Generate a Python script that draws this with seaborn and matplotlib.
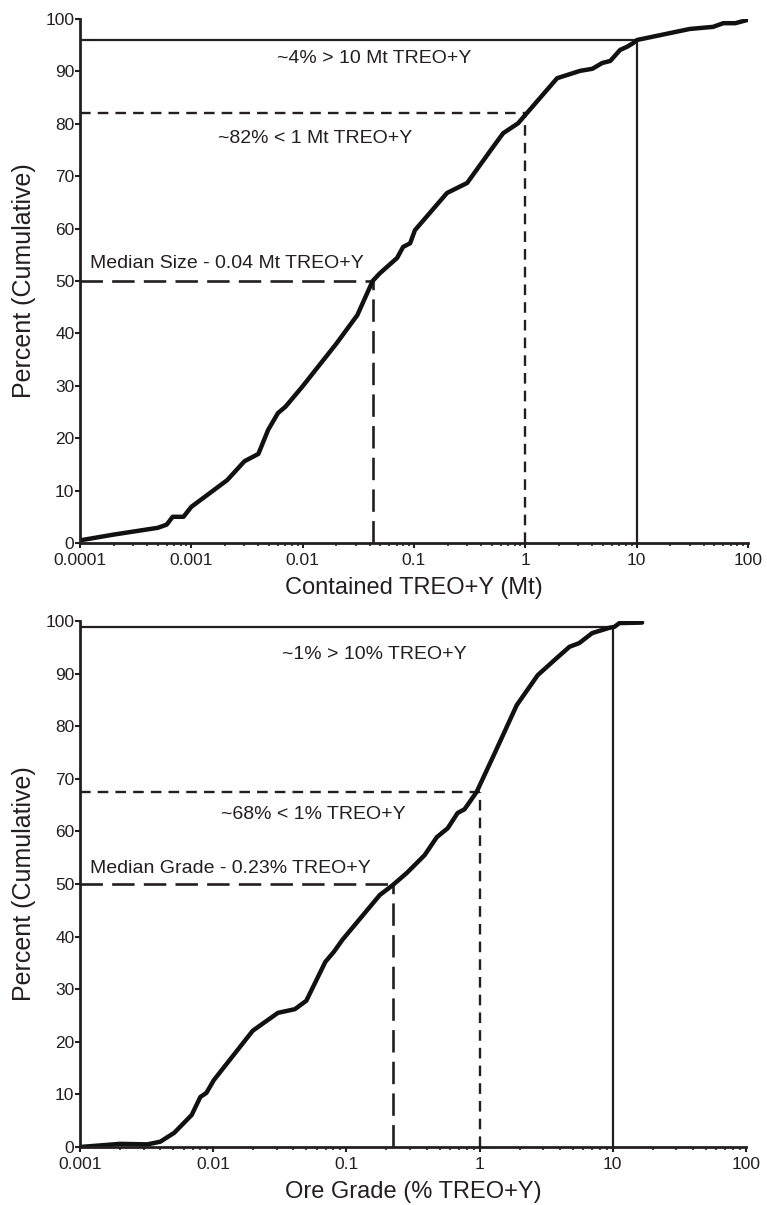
import matplotlib
matplotlib.use("Agg")
import matplotlib.pyplot as plt
import matplotlib.ticker as mticker
import seaborn as sns
import pandas as pd
import numpy as np

# ---- Data ----
size_mt = [0.0001, 0.0002, 0.0005, 0.0006, 0.00068, 0.00085, 0.001, 0.0021, 0.003, 0.004,
           0.0049, 0.006, 0.007, 0.0099, 0.02, 0.031, 0.0425, 0.0495, 0.0705, 0.0798,
           0.0923, 0.102, 0.198, 0.30, 0.514, 0.632, 0.861, 1.0, 1.93, 3.1, 4.0, 4.9,
           5.8, 7.1, 8.2, 9.3, 10.1, 30, 48.6, 60, 77, 98]
size_pct = [0.5, 1.6, 2.9, 3.5, 5.0, 5.0, 6.9, 12.0, 15.6, 17.0,
            21.6, 24.8, 26.0, 29.8, 38.0, 43.5, 50.0, 51.5, 54.4, 56.5,
            57.2, 59.7, 66.8, 68.7, 75.6, 78.2, 80.1, 81.7, 88.7, 90.1, 90.5, 91.6,
            92.0, 94.1, 94.7, 95.4, 96.0, 98.1, 98.5, 99.2, 99.2, 99.8]

grade_pct = [0.001, 0.002, 0.0032, 0.004, 0.0051, 0.0069, 0.008, 0.0089, 0.0101, 0.0198,
             0.0306, 0.041, 0.050, 0.0695, 0.0805, 0.0934, 0.178, 0.223, 0.284, 0.387,
             0.477, 0.576, 0.684, 0.77, 0.95, 1.30, 1.90, 2.73, 3.66, 4.73,
             5.6, 7.0, 9.4, 10.3, 11.2, 16.6]
grade_cum = [0.0, 0.6, 0.5, 1.0, 2.7, 6.1, 9.5, 10.3, 12.7, 22.1,
             25.5, 26.2, 27.8, 35.2, 37.1, 39.4, 47.9, 49.8, 52.1, 55.5,
             58.9, 60.6, 63.5, 64.2, 67.5, 74.9, 84.0, 89.7, 92.6, 95.1,
             95.8, 97.7, 98.7, 98.9, 99.6, 99.7]

top_ticks = [0.0001, 0.001, 0.01, 0.1, 1, 10, 100]
top_ticklabels = ["0.0001", "0.001", "0.01", "0.1", "1", "10", "100"]
bot_ticks = [0.001, 0.01, 0.1, 1, 10, 100]
bot_ticklabels = ["0.001", "0.01", "0.1", "1", "10", "100"]
y_ticks = list(range(0, 101, 10))

# reference levels
top_ref = {"hi": (10, 96), "mid": (1, 82), "med": (0.0425, 50)}
bot_ref = {"hi": (10, 98.8), "mid": (1, 67.5), "med": (0.225, 50)}
top_texts = ["~4% > 10 Mt TREO+Y", "~82% < 1 Mt TREO+Y", "Median Size - 0.04 Mt TREO+Y"]
bot_texts = ["~1% > 10% TREO+Y", "~68% < 1% TREO+Y", "Median Grade - 0.23% TREO+Y"]

sns.set_theme(style="white")
plt.rcParams['font.family'] = ['Liberation Sans', 'DejaVu Sans']
TXT = '#231f20'

fig = plt.figure(figsize=(7.67, 12.05), dpi=100)
ax1 = fig.add_axes([80/767, 1-543/1205, (748-80)/767, (543-19)/1205])
ax2 = fig.add_axes([80/767, 1-1147/1205, (746-80)/767, (1147-621)/1205])

def style_axes(ax, xmin, ticks, labels, xlabel):
    ax.set_xscale('log')
    ax.set_xlim(xmin, 100)
    ax.set_ylim(0, 100)
    ax.xaxis.set_major_locator(mticker.FixedLocator(ticks))
    ax.xaxis.set_major_formatter(mticker.FixedFormatter(labels))
    ax.xaxis.set_minor_locator(mticker.LogLocator(base=10, subs=np.arange(2, 10)))
    ax.xaxis.set_minor_formatter(mticker.NullFormatter())
    ax.set_yticks(y_ticks)
    ax.set_yticklabels([str(v) for v in y_ticks])
    for s in ['top', 'right']:
        ax.spines[s].set_visible(False)
    for s in ['left', 'bottom']:
        ax.spines[s].set_linewidth(2.0)
        ax.spines[s].set_color(TXT)
    ax.tick_params(axis='both', which='major', direction='out', length=3.5, width=1.5,
                   color=TXT, labelcolor=TXT, labelsize=12.5, bottom=True, left=True)
    ax.tick_params(axis='x', which='major', pad=4)
    ax.tick_params(axis='y', which='major', pad=0.5)
    ax.tick_params(axis='x', which='minor', direction='out', length=2.5, width=1.2,
                   color=TXT, bottom=True)
    ax.set_xlabel(xlabel, fontsize=17, color=TXT, labelpad=6)
    ax.set_ylabel("Percent (Cumulative)", fontsize=18, color=TXT, labelpad=7)
    ax.grid(False)

def ref_lines(ax, xmin, ref):
    hx, hy = ref["hi"]
    ax.plot([xmin, hx], [hy, hy], color=TXT, lw=1.6, solid_capstyle='butt')
    ax.plot([hx, hx], [0, hy], color=TXT, lw=1.6, solid_capstyle='butt')
    mx, my = ref["mid"]
    ax.plot([xmin, mx], [my, my], color=TXT, lw=1.7, linestyle=(0, (4.5, 3)))
    ax.plot([mx, mx], [0, my], color=TXT, lw=1.7, linestyle=(0, (4.5, 3)))
    dx, dy = ref["med"]
    ax.plot([xmin, dx], [dy, dy], color=TXT, lw=1.9, linestyle=(0, (8.5, 3.5)))
    ax.plot([dx, dx], [0, dy], color=TXT, lw=1.9, linestyle=(0, (8.5, 3.5)))

FS = 14

# Top panel
df1 = pd.DataFrame({"x": size_mt, "y": size_pct})
ref_lines(ax1, 0.0001, top_ref)
sns.lineplot(data=df1, x="x", y="y", ax=ax1, color='#111111', linewidth=3.2,
             sort=False, estimator=None)
style_axes(ax1, 0.0001, top_ticks, top_ticklabels, "Contained TREO+Y (Mt)")
ax1.text(10**-1.354, 91.6, top_texts[0], fontsize=FS, color=TXT, ha='center', va='baseline')
ax1.text(10**-1.889, 76.3, top_texts[1], fontsize=FS, color=TXT, ha='center', va='baseline')
ax1.text(10**-3.91, 52.5, top_texts[2], fontsize=FS, color=TXT, ha='left', va='baseline')

# Bottom panel
df2 = pd.DataFrame({"x": grade_pct, "y": grade_cum})
ref_lines(ax2, 0.001, bot_ref)
sns.lineplot(data=df2, x="x", y="y", ax=ax2, color='#111111', linewidth=3.2,
             sort=False, estimator=None)
style_axes(ax2, 0.001, bot_ticks, bot_ticklabels, "Ore Grade (% TREO+Y)")
ax2.text(10**-0.794, 92.8, bot_texts[0], fontsize=FS, color=TXT, ha='center', va='baseline')
ax2.text(10**-1.245, 62.4, bot_texts[1], fontsize=FS, color=TXT, ha='center', va='baseline')
ax2.text(10**-2.925, 52.1, bot_texts[2], fontsize=FS, color=TXT, ha='left', va='baseline')

fig.savefig("out.png", dpi=100)
